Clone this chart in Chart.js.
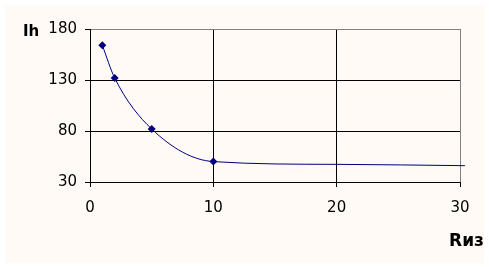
<!DOCTYPE html>
<html>
<head>
<meta charset="utf-8">
<script src="https://cdn.jsdelivr.net/npm/chart.js@4/dist/chart.umd.min.js"></script>
<style>
  body { margin: 0; background: #ffffff; }
  #wrap { width: 489px; height: 267px; }
</style>
</head>
<body>
<div id="wrap"><canvas id="chart" width="489" height="267"></canvas></div>
<script>
// Rиз vs Ih
const rValues = [1, 2, 5, 10, 20, 30.4];
const ihValues = [164, 132, 82, 50, 47.3, 46];
const markerShown = [true, true, true, true, false, false];
const xTicks = [0, 10, 20, 30];
const yTicks = [30, 80, 130, 180];

const navy = '#000080';
const fontFamily = '"DejaVu Sans", Verdana, sans-serif';

// peach background + axis titles
const decor = {
    id: 'decor',
    beforeDraw(chart) {
        const ctx = chart.ctx;
        ctx.save();
        ctx.fillStyle = '#fffaf5';
        ctx.fillRect(5, 5, 479, 258);
        ctx.restore();
    },
    afterDraw(chart) {
        const ctx = chart.ctx;
        ctx.save();
        ctx.fillStyle = '#000';
        ctx.font = 'bold 15px ' + fontFamily;
        ctx.textBaseline = 'alphabetic';
        ctx.textAlign = 'left';
        ctx.fillText('Ih', 23, 36);
        ctx.font = 'bold 17px ' + fontFamily;
        ctx.textAlign = 'right';
        ctx.fillText('Rиз', 484, 246);
        ctx.restore();
    }
};

const ctx = document.getElementById('chart').getContext('2d');
new Chart(ctx, {
    type: 'line',
    data: {
        datasets: [{
            data: rValues.map((r, i) => ({ x: r, y: ihValues[i] })),
            borderColor: navy,
            borderWidth: 1,
            backgroundColor: navy,
            pointStyle: 'rectRot',
            pointRadius: markerShown.map(m => m ? 4 : 0),
            pointBorderWidth: 0,
            cubicInterpolationMode: 'monotone',
            clip: 8
        }]
    },
    options: {
        responsive: false,
        animation: false,
        events: [],
        layout: { padding: { top: 29, right: 29, left: 0, bottom: 0 } },
        plugins: { legend: { display: false }, tooltip: { enabled: false } },
        scales: {
            x: {
                type: 'linear',
                min: 0,
                max: 30,
                afterFit(scale) { scale.height = 85; },
                afterBuildTicks(scale) { scale.ticks = xTicks.map(v => ({ value: v })); },
                grid: {
                    color: c => c.tick && c.tick.value === 30 ? '#808080' : '#000',
                    tickColor: '#000',
                    tickLength: 5,
                    lineWidth: 1
                },
                border: { color: '#000', width: 1 },
                ticks: { color: '#000', padding: 12, font: { family: fontFamily, size: 15 } }
            },
            y: {
                min: 30,
                max: 180,
                afterFit(scale) { scale.width = 90; },
                afterBuildTicks(scale) { scale.ticks = yTicks.map(v => ({ value: v })); },
                grid: {
                    color: c => c.tick && c.tick.value === 180 ? '#808080' : '#000',
                    tickColor: '#000',
                    tickLength: 5,
                    lineWidth: 1
                },
                border: { color: '#000', width: 1 },
                ticks: { color: '#000', padding: 8, font: { family: fontFamily, size: 15 } }
            }
        }
    },
    plugins: [decor]
});
</script>
</body>
</html>
